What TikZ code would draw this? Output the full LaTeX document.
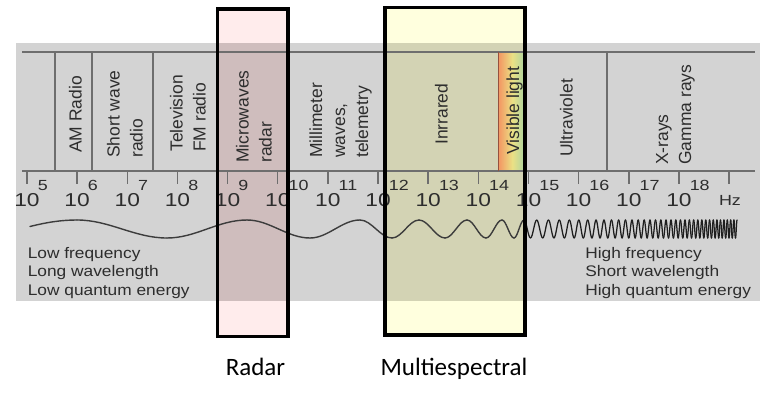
\documentclass[tikz,border=0pt]{standalone}
\usepackage{fontspec}
\setmainfont{Liberation Sans}
\newfontfamily\calib{Carlito}
\definecolor{bggrey}{RGB}{211,211,211}
\definecolor{pinkout}{RGB}{255,236,236}
\definecolor{pinkin}{RGB}{207,189,189}
\definecolor{yelout}{RGB}{255,255,222}
\definecolor{yelin}{RGB}{211,211,180}
\definecolor{divline}{RGB}{110,110,110}
\definecolor{txt}{RGB}{45,45,45}
\definecolor{wavecol}{RGB}{60,60,60}
\definecolor{wavedark}{RGB}{30,30,30}
\definecolor{visedge}{RGB}{150,80,60}
\pgfdeclarehorizontalshading{vislight}{100bp}{rgb(0bp)=(0.91,0.45,0.36); rgb(28bp)=(0.95,0.62,0.40); rgb(52bp)=(0.92,0.88,0.52); rgb(74bp)=(0.70,0.84,0.62); rgb(100bp)=(0.62,0.76,0.80)}
\tikzset{
  divider/.style={draw=divline, line width=1.4pt},
  tickmark/.style={draw=divline, line width=1.1pt},
  base10/.style={font=\fontsize{14}{16}\selectfont, text=txt, xscale=1.22, inner sep=0, anchor=base},
  expo/.style={font=\fontsize{11}{13}\selectfont, text=txt, xscale=1.22, inner sep=0, anchor=base west},
  bandlabel/.style={rotate=90, anchor=south west, align=left, inner sep=0, font=\fontsize{13.1}{17.25}\selectfont, text=txt},
  sidetext/.style={font=\fontsize{11.5}{13.7}\selectfont, text=txt, xscale=1.13, inner sep=0, anchor=base west, align=left},
  wave/.style={draw=wavecol, line width=1.05pt, line cap=round},
  densewave/.style={draw=wavedark, line width=0.95pt, line cap=round},
  selbox/.style={draw=black, line width=2.6pt},
  caption/.style={font=\calib\fontsize{18.75}{22}\selectfont, text=black, anchor=base, inner sep=0}
}
\begin{document}
\begin{tikzpicture}[x=0.75pt,y=-0.75pt]
\useasboundingbox (0,0) rectangle (780,403);
% grey band
\fill[bggrey] (16,43) rectangle (760,301);
% selection box fills
\fill[pinkout] (217.5,9) rectangle (288,43);
\fill[pinkin] (217.5,43) rectangle (288,301);
\fill[pinkout] (217.5,301) rectangle (288,336.5);
\fill[yelout] (385,7.7) rectangle (525,43);
\fill[yelin] (385,43) rectangle (525,301);
\fill[yelout] (385,301) rectangle (525,335);
% visible light stripe
\shade[shading=vislight] (498.5,52) rectangle (524,171);
% frame lines
\draw[divider] (22,52) -- (755,52);
\draw[divider] (22,171) -- (755,171);
\foreach \dx in {55,92,153,607}{
  \draw[divider] (\dx,52) -- (\dx,171);
}
\draw[draw=visedge, line width=1.4pt] (498.5,52) -- (498.5,171);
% ticks and numbers
\foreach \i in {0,...,14}{
  \pgfmathsetmacro\tx{27+50.15*\i}
  \draw[tickmark] (\tx,171) -- (\tx,184);
}
\foreach \i in {0,...,13}{
  \pgfmathsetmacro\tx{27+50.15*\i}
  \pgfmathtruncatemacro\ex{\i+5}
  \node[base10] (ten\i) at (\tx,206) {10};
  \node[expo] (exp\i) at (\tx+10.5,190) {\ex};
}
\node[base10, font=\fontsize{11}{13}\selectfont] (hz) at (730,205) {Hz};
% band labels
\node[bandlabel] (am) at (82,153) {AM Radio};
\node[bandlabel] (sw) at (143,158) {Short wave\\radio};
\node[bandlabel] (tv) at (206,152) {Television\\FM radio};
\node[bandlabel] (mw) at (272,163) {Microwaves\\radar};
\node[bandlabel] (mm) at (372,158) {Millimeter\\waves,\\telemetry};
\node[bandlabel] (ir) at (448,145) {Inrrared};
\node[bandlabel] (vis) at (523,155) {Visible light};
\node[bandlabel] (uv) at (573,157) {Ultraviolet};
\node[bandlabel] (xg) at (695,165) {X-rays\\Gamma rays};
% side texts (anchor = baseline of the last line)
\node[sidetext] (low) at (27.5,295) {Low frequency\\Long wavelength\\Low quantum energy};
\node[sidetext] (high) at (585,295) {High frequency\\Short wavelength\\High quantum energy};
% wave
\draw[wave] (30,226.5) .. controls (48,222) and (62,220) .. (77,220);
\foreach \a/\b [count=\k] in {77/167,167/247,247/310,310/360,360/392,392/419,419/445,445/467,467/486,486/502,502/514,514/524}{
  \pgfmathsetmacro\m{(\a+\b)/2}
  \ifodd\k
    \draw[wave] (\a,220) cos (\m,229) sin (\b,238);
  \else
    \draw[wave] (\a,238) cos (\m,229) sin (\b,220);
  \fi
}
\def\wvx{524}
\def\wvs{1}
\foreach \i in {1,...,95}{
  \pgfmathsetmacro\wvh{6.5*exp(-0.0067*(\wvx-524))}
  \pgfmathsetmacro\wvn{\wvx+\wvh}
  \pgfmathsetmacro\wvm{\wvx+\wvh/2}
  \ifdim\wvn pt<738pt
    \ifnum\wvs=1
      \draw[densewave] (\wvx,220) cos (\wvm,229) sin (\wvn,238);
    \else
      \draw[densewave] (\wvx,238) cos (\wvm,229) sin (\wvn,220);
    \fi
    \xdef\wvx{\wvn}
    \pgfmathtruncatemacro\wvt{1-\wvs}
    \xdef\wvs{\wvt}
  \fi
}
% selection box outlines
\draw[selbox] (217.5,9) rectangle (288,336.5);
\draw[selbox] (385,7.7) rectangle (525,335);
% captions
\node[caption] (radar) at (255.5,375) {Radar};
\node[caption] (multi) at (454,375) {Multiespectral};
\end{tikzpicture}
\end{document}
